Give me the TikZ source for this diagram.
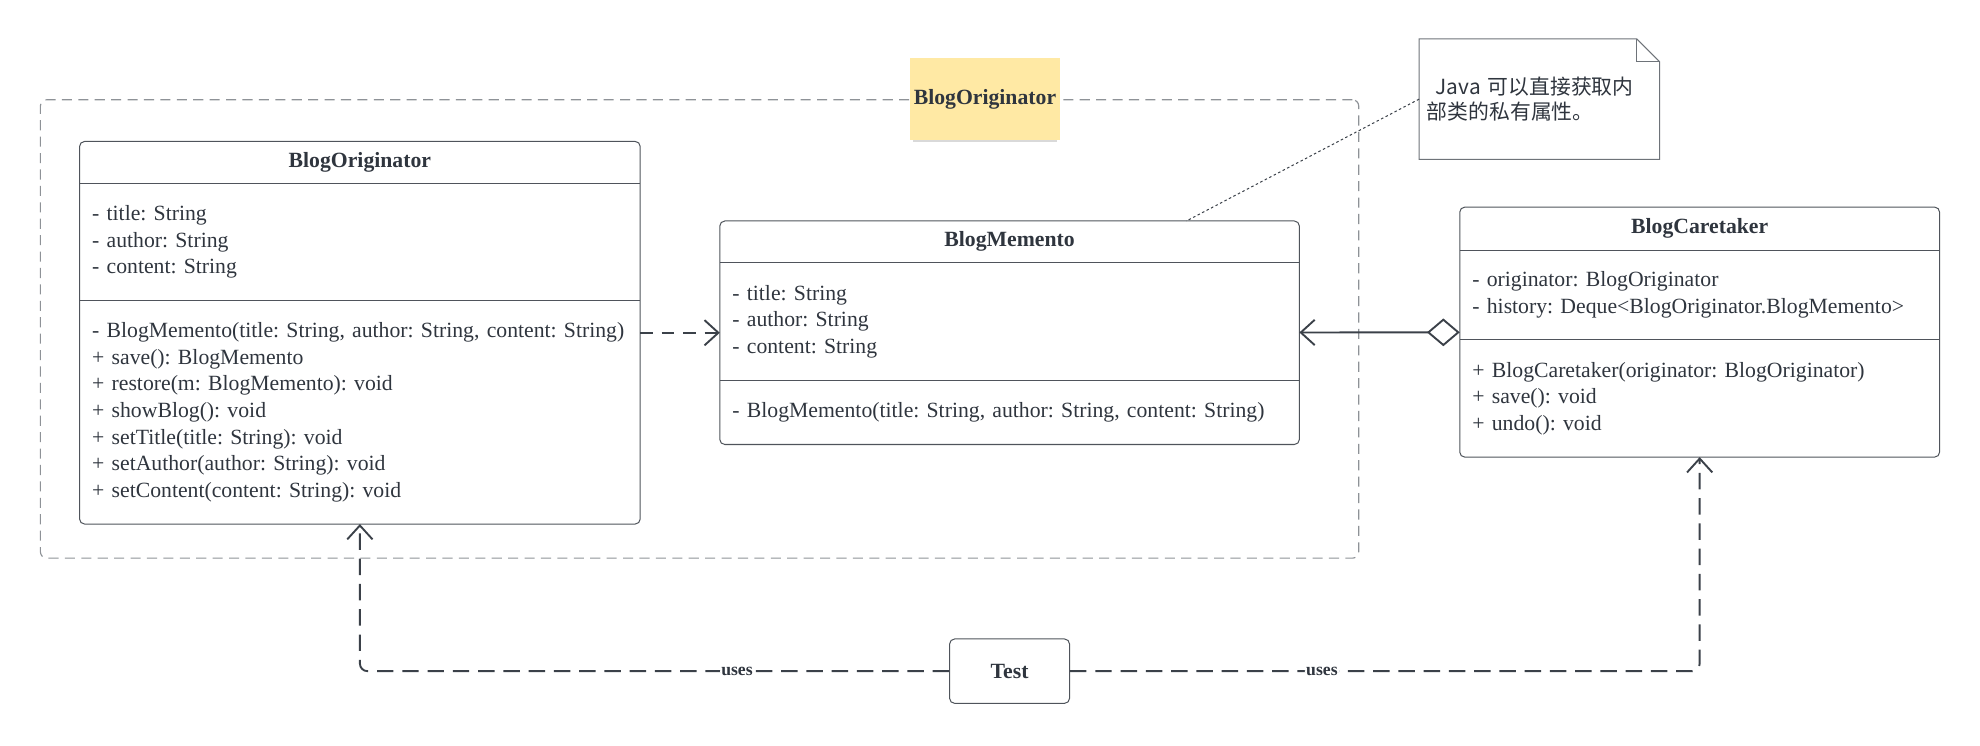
\documentclass[tikz,border=0pt]{standalone}
\usepackage{fontspec}
\setmainfont{Liberation Serif}
\newfontfamily\notefont{Noto Sans CJK SC}
\usepackage{xcolor}
\usepackage{tikz}
\usetikzlibrary{shapes,arrows.meta}
\usetikzlibrary{positioning}
\usetikzlibrary{fit}
\usetikzlibrary{shadows}
\definecolor{umlline}{HTML}{3B4149}
\definecolor{umltext}{HTML}{2F353E}
\definecolor{framegray}{HTML}{8E9297}
\definecolor{notegray}{HTML}{6E7379}
\definecolor{stickyyellow}{HTML}{FFE9A4}
\frenchspacing
\tikzstyle{classtitle} = [rectangle, outer sep=0pt, inner sep=0pt, text=umltext,
    font=\fontsize{17.2}{21}\selectfont\bfseries]
\tikzstyle{classpart} = [rectangle, outer sep=0pt, inner xsep=10pt, inner ysep=0pt,
    text=umltext, align=left, font=\fontsize{17.2}{21}\selectfont]
\tikzstyle{classbox} = [rectangle, draw=umlline!90, line width=.8pt, rounded corners=4pt,
    inner sep=0pt, outer sep=0pt]
\tikzstyle{divider} = [draw=umlline!90, line width=.8pt]
\tikzstyle{framebox} = [rectangle, draw=framegray, line width=.9pt,
    dash pattern=on 8pt off 5pt, rounded corners=5pt]
\tikzstyle{sticky} = [rectangle, fill=stickyyellow, text=umltext,
    font=\fontsize{17.2}{21}\selectfont\bfseries,
    drop shadow={shadow xshift=0pt, shadow yshift=-3pt, shadow scale=.95, opacity=.15, fill=black}]
\tikzstyle{notetext} = [rectangle, fill=white, inner xsep=6pt, align=left, text=umltext,
    font=\notefont\fontsize{16.5}{20}\selectfont]
\tikzstyle{notebox} = [draw=notegray, line width=.8pt]
\tikzstyle{noteline} = [draw=umlline, line width=.8pt, dash pattern=on 2pt off 2pt]
\tikzstyle{testbox} = [rectangle, draw=umlline!90, line width=.8pt, rounded corners=4pt, text=umltext,
    font=\fontsize{17.2}{21}\selectfont\bfseries, minimum width=95pt, minimum height=51pt]
\tikzstyle{dep} = [draw=umlline, line width=1.5pt, dash pattern=on 10pt off 7pt,
    -{Straight Barb[length=11pt,width=20pt]}]
\tikzstyle{agg} = [draw=umlline, line width=1.5pt,
    {Diamond[length=26pt,width=22pt,fill=white]}-{Straight Barb[length=11pt,width=20pt]}]
\tikzstyle{uses} = [draw=umlline, line width=1.5pt, dash pattern=on 13pt off 7pt, rounded corners=6pt,
    -{Straight Barb[length=11pt,width=20pt]}]
\tikzstyle{useslabel} = [fill=white, inner sep=1pt, text=umltext,
    font=\fontsize{14}{16}\selectfont\bfseries]

\begin{document}
\begin{tikzpicture}[x=1pt, y=-1pt]
  \useasboundingbox (0,0) rectangle (1568,590);

  % Frame
  \node [framebox, minimum width=1044pt, minimum height=363pt] (frame) at (554,260.5) {};
  \node [sticky, minimum width=116pt, minimum height=65pt] (frametitle) at (780,78.5) {BlogOriginator};

  % Place nodes
  \node [classtitle, minimum width=444pt, minimum height=33pt] (origT) at (285,128.5) {BlogOriginator};
  \node [classpart, below=0pt of origT, text width=424pt, minimum height=93pt] (origA)
    {- title: String\\- author: String\\- content: String};
  \node [classpart, below=0pt of origA, text width=424pt, minimum height=177pt] (origM)
    {- BlogMemento(title: String, author: String, content: String)\\+ save(): BlogMemento\\
     + restore(m: BlogMemento): void\\+ showBlog(): void\\+ setTitle(title: String): void\\
     + setAuthor(author: String): void\\+ setContent(content: String): void};
  \node [classbox, fit=(origT)(origM)] (orig) {};

  \node [classtitle, minimum width=459pt, minimum height=33pt] (memT) at (799.5,191.5) {BlogMemento};
  \node [classpart, below=0pt of memT, text width=439pt, minimum height=93pt] (memA)
    {- title: String\\- author: String\\- content: String};
  \node [classpart, below=0pt of memA, text width=439pt, minimum height=51pt] (memM)
    {- BlogMemento(title: String, author: String, content: String)};
  \node [classbox, fit=(memT)(memM)] (mem) {};

  \node [classtitle, minimum width=380pt, minimum height=34pt] (careT) at (1346,181) {BlogCaretaker};
  \node [classpart, below=0pt of careT, text width=360pt, minimum height=71pt] (careA)
    {- originator: BlogOriginator\\- history: Deque<BlogOriginator.BlogMemento>};
  \node [classpart, below=0pt of careA, text width=360pt, minimum height=93pt] (careM)
    {+ BlogCaretaker(originator: BlogOriginator)\\+ save(): void\\+ undo(): void};
  \node [classbox, fit=(careT)(careM)] (care) {};

  \foreach \part in {origA,origM,memA,memM,careA,careM}
    \draw [divider] (\part.north west) -- (\part.north east);

  \node [testbox] (test) at (799.5,531.5) {Test};

  % Note
  \node [notetext, minimum width=190pt, minimum height=95pt, text width=178pt] (note) at (1219,78.5)
    {\hspace*{7pt}Java 可以直接获取内\\部类的私有属性。};
  \draw [notebox] (note.north west) -- ([xshift=-18pt]note.north east) -- ([yshift=-18pt]note.north east)
    -- (note.south east) -- (note.south west) -- cycle;
  \draw [notebox] ([xshift=-18pt]note.north east) |- ([yshift=-18pt]note.north east);
  \path [noteline] (note.west) -- ([xshift=140pt]mem.north);

  % Connectors
  \path [dep] (orig) -- (mem);
  \path [agg] (care) -- (mem);
  \path [uses] (test) -| node [useslabel, pos=.18] {uses} (orig);
  \path [uses] (test) -| node [useslabel, pos=.2] {uses} (care);

\end{tikzpicture}
\end{document}
